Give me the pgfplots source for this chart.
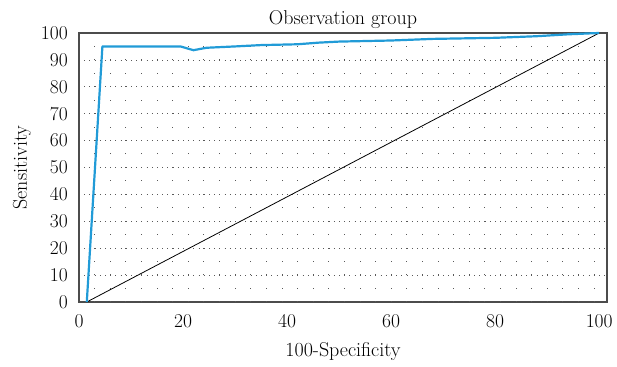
\documentclass[border=0pt]{standalone}
\usepackage{pgfplots}
\pgfplotsset{compat=1.18}
\definecolor{rocblue}{RGB}{33,155,215}
\begin{document}
\begin{tikzpicture}
\begin{axis}[
  scale only axis,
  width=528pt, height=269pt,
  xmin=0, xmax=101.5, ymin=0, ymax=100,
  xtick={0,20,40,60,80,100},
  ytick={0,10,...,100},
  /pgf/number format/assume math mode=true,
  tick label style={font=\fontsize{19.5}{22}\selectfont},
  xticklabel style={anchor=base, inner sep=0pt, yshift=-26pt},
  yticklabel style={anchor=east, inner sep=0pt, xshift=-11pt},
  major tick length=0pt,
  axis line style={black!70, line width=1.1pt},
  title={Observation group},
  title style={font=\fontsize{20}{24}\selectfont, at={(axis description cs:0.5,1)}, anchor=base, yshift=2pt, inner xsep=0pt, inner ysep=11pt, minimum width=548pt},
  xlabel={100-Specificity},
  ylabel={Sensitivity},
  xlabel style={font=\fontsize{20}{24}\selectfont, at={(axis description cs:0.5,0)}, anchor=base, yshift=-55pt, inner xsep=0pt, inner ysep=5pt},
  ylabel style={font=\fontsize{20}{24}\selectfont, at={(axis description cs:0,0.5)}, anchor=center, yshift=57pt, inner sep=0pt, minimum height=44pt},
  ymajorgrids,
  y grid style={black!65, line width=0.7pt, dash pattern=on 0.6pt off 4.6pt},
  extra x ticks={3,6,...,99},
  extra x tick labels={},
  extra x tick style={grid=major, x grid style={black!65, line width=0.7pt, dash pattern=on 0.6pt off 12.85pt}},
  clip=false,
]
\addplot[black, line width=0.8pt] coordinates {(1.5,0) (100,100)};
\addplot[rocblue, line width=2.2pt, line join=round] coordinates {
(1.5,0) (4.5,95) (19.5,95) (22,93.6) (24.5,94.5) (30,95) (35,95.5) (42,95.8)
(46,96.4) (50,96.8) (60,97.2) (68,97.8) (80,98.2) (88,98.8) (94,99.5) (100,100)};
\end{axis}
\end{tikzpicture}
\end{document}
